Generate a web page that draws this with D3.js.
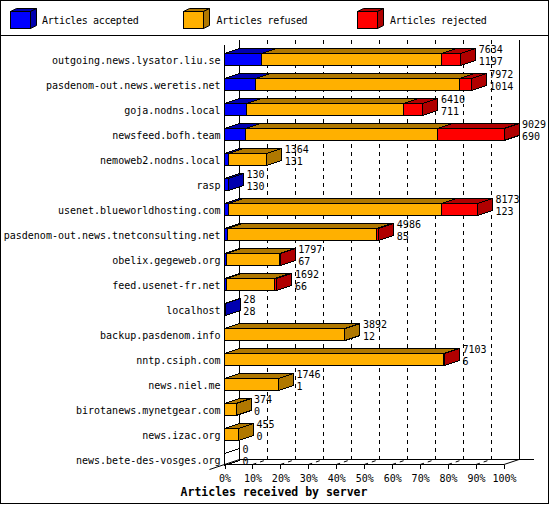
<!DOCTYPE html>
<html><head><meta charset="utf-8">
<script src="https://cdn.jsdelivr.net/npm/d3@7"></script>
<style>
body{margin:0;background:#fff}
text{font-family:"DejaVu Sans Mono",monospace;fill:#000}
</style></head>
<body><svg id="c" width="550" height="505"></svg>
<script>
const servers = ["outgoing.news.lysator.liu.se","pasdenom-out.news.weretis.net","goja.nodns.local","newsfeed.bofh.team","nemoweb2.nodns.local","rasp","usenet.blueworldhosting.com","pasdenom-out.news.tnetconsulting.net","obelix.gegeweb.org","feed.usenet-fr.net","localhost","backup.pasdenom.info","nntp.csiph.com","news.niel.me","birotanews.mynetgear.com","news.izac.org","news.bete-des-vosges.org"];
const totals   = [7634,7972,6410,9029,1364,130,8173,4986,1797,1692,28,3892,7103,1746,374,455,0];
const accepted = [1197,1014,711,690,131,130,123,85,67,66,28,12,6,1,0,0,0];
const refused  = [5820,6570,5079,6184,1233,0,6893,4836,1700,1561,0,3880,7077,1745,374,455,0];
const rejected = [617,388,620,2155,0,0,1157,65,30,65,0,0,20,0,0,0,0];
const seriesNames = ["Articles accepted","Articles refused","Articles rejected"];
const pctTicks = [0,10,20,30,40,50,60,70,80,90,100];
const xTitle = "Articles received by server";

const colors = ["#0000ff","#ffb000","#ff0000"];
const darks  = ["#0000b0","#b07800","#b00000"];

const svg = d3.select("#c");
const DX = 15, DY = -5;
const X0 = 224.5, X1 = 504, YTOP = 44.5, YBOT = 464.5;

const x = d3.scaleLinear().domain([0, d3.max(totals)]).range([X0, X1]);
const pct = d3.scaleLinear().domain([0, 100]).range([X0, X1]);
const y = d3.scalePoint().domain(servers).range([59.3, 459.3]);

// border
svg.append("rect").attr("x",0.5).attr("y",0.5).attr("width",548).attr("height",503)
  .attr("fill","none").attr("stroke","#000");
svg.append("line").attr("x1",0).attr("x2",549).attr("y1",35.5).attr("y2",35.5).attr("stroke","#000");

// legend
const legX = [10, 183, 357], legTX = [42, 216.5, 390];
seriesNames.forEach((n,i)=>{
  const g = svg.append("g");
  const lx = legX[i]+0.5, ly = 11.5, w = 20, h = 17, dx = 6, dy = -3;
  g.append("rect").attr("x",lx).attr("y",ly).attr("width",w).attr("height",h)
    .attr("fill",colors[i]).attr("stroke","#000");
  g.append("polygon").attr("points",[[lx,ly],[lx+dx,ly+dy],[lx+w+dx,ly+dy],[lx+w,ly]].join(" "))
    .attr("fill",darks[i]).attr("stroke","#000");
  g.append("polygon").attr("points",[[lx+w,ly],[lx+w+dx,ly+dy],[lx+w+dx,ly+h+dy],[lx+w,ly+h]].join(" "))
    .attr("fill",darks[i]).attr("stroke","#000");
  g.append("text").attr("x",legTX[i]).attr("y",24).attr("font-size","10px")
    .attr("letter-spacing","-0.35px").text(n);
});

const axes = svg.append("g").attr("shape-rendering","crispEdges");
// back plane
axes.append("line").attr("x1",X0+DX).attr("x2",X0+DX).attr("y1",YTOP+DY).attr("y2",YBOT+DY).attr("stroke","#000");
axes.append("line").attr("x1",X1+DX).attr("x2",X1+DX).attr("y1",YTOP+DY).attr("y2",YBOT+DY).attr("stroke","#000");
axes.append("line").attr("x1",X0+DX).attr("x2",X1+DX+15).attr("y1",YBOT+DY).attr("y2",YBOT+DY).attr("stroke","#000");
// grid
pctTicks.filter(t=>t>0 && t<100).forEach(t=>{
  const xb = pct(t)+DX;
  svg.append("line").attr("x1",xb).attr("x2",xb).attr("y1",YTOP+DY).attr("y2",YBOT+DY)
    .attr("stroke","#000").attr("stroke-dasharray","4,4").attr("shape-rendering","crispEdges");
  svg.append("line").attr("x1",pct(t)).attr("x2",xb).attr("y1",YBOT).attr("y2",YBOT+DY)
    .attr("stroke","#000").attr("stroke-dasharray","4,4");
});
// floor edges
svg.append("line").attr("x1",X0-DX).attr("y1",YBOT-DY).attr("x2",X0+DX).attr("y2",YBOT+DY).attr("stroke","#000");
svg.append("line").attr("x1",X1).attr("y1",YBOT).attr("x2",X1+DX).attr("y2",YBOT+DY).attr("stroke","#000");
// front axes
axes.append("line").attr("x1",X0).attr("x2",X0).attr("y1",YTOP).attr("y2",YBOT).attr("stroke","#000");
axes.append("line").attr("x1",X0).attr("x2",X1).attr("y1",YBOT).attr("y2",YBOT).attr("stroke","#000");

// x axis ticks & labels
const xa = svg.append("g").attr("transform",`translate(0,${YBOT})`)
  .call(d3.axisBottom(pct).tickValues(pctTicks).tickSize(4).tickPadding(4).tickFormat(d=>d+"%"));
xa.select(".domain").remove();
xa.selectAll("line").attr("stroke","#000").attr("shape-rendering","crispEdges");
xa.selectAll("text").attr("font-size","10px").attr("font-family","DejaVu Sans Mono").attr("fill","#000")
  .attr("dy",null).attr("y",17);

// y axis labels
const ya = svg.append("g").attr("transform",`translate(${X0},0)`)
  .call(d3.axisLeft(y).tickSize(0).tickPadding(4));
ya.select(".domain").remove();
ya.selectAll("text").attr("font-size","10px").attr("font-family","DejaVu Sans Mono").attr("fill","#000")
  .attr("dy","0.4em");

// bars
const bars = svg.append("g").attr("shape-rendering","crispEdges");
servers.forEach((s,i)=>{
  const c = y(s);
  const top = Math.round(c-6)+0.5, bot = top+12;
  const vals = [accepted[i], refused[i], rejected[i]];
  let cum = 0;
  const g = bars.append("g");
  if (totals[i] === 0) {
    const xa0 = x(0);
    g.append("polygon").attr("points",[[xa0,top],[xa0+DX,top+DY],[xa0+DX,bot+DY],[xa0,bot]].join(" "))
      .attr("fill","none").attr("stroke","#000");
  }
  vals.forEach((v,k)=>{
    if (v <= 0) return;
    const a = x(cum), b = x(cum+v);
    cum += v;
    g.append("polygon").attr("points",[[a,top],[b,top],[b,bot],[a,bot]].join(" "))
      .attr("fill",colors[k]).attr("stroke","#000");
    g.append("polygon").attr("points",[[a,top],[a+DX,top+DY],[b+DX,top+DY],[b,top]].join(" "))
      .attr("fill",darks[k]).attr("stroke","#000");
    g.append("polygon").attr("points",[[b,top],[b+DX,top+DY],[b+DX,bot+DY],[b,bot]].join(" "))
      .attr("fill",darks[k]).attr("stroke","#000");
  });
  const tx = x(totals[i]) + DX + 3;
  svg.append("text").attr("x",tx).attr("y",c-6.3).attr("font-size","10px").text(totals[i]);
  svg.append("text").attr("x",tx).attr("y",c+5.5).attr("font-size","10px").text(accepted[i]);
});

// title
svg.append("text").attr("x",274).attr("y",495.5).attr("text-anchor","middle")
  .attr("font-size","11.5px").attr("font-weight","bold").text(xTitle);
</script></body></html>
